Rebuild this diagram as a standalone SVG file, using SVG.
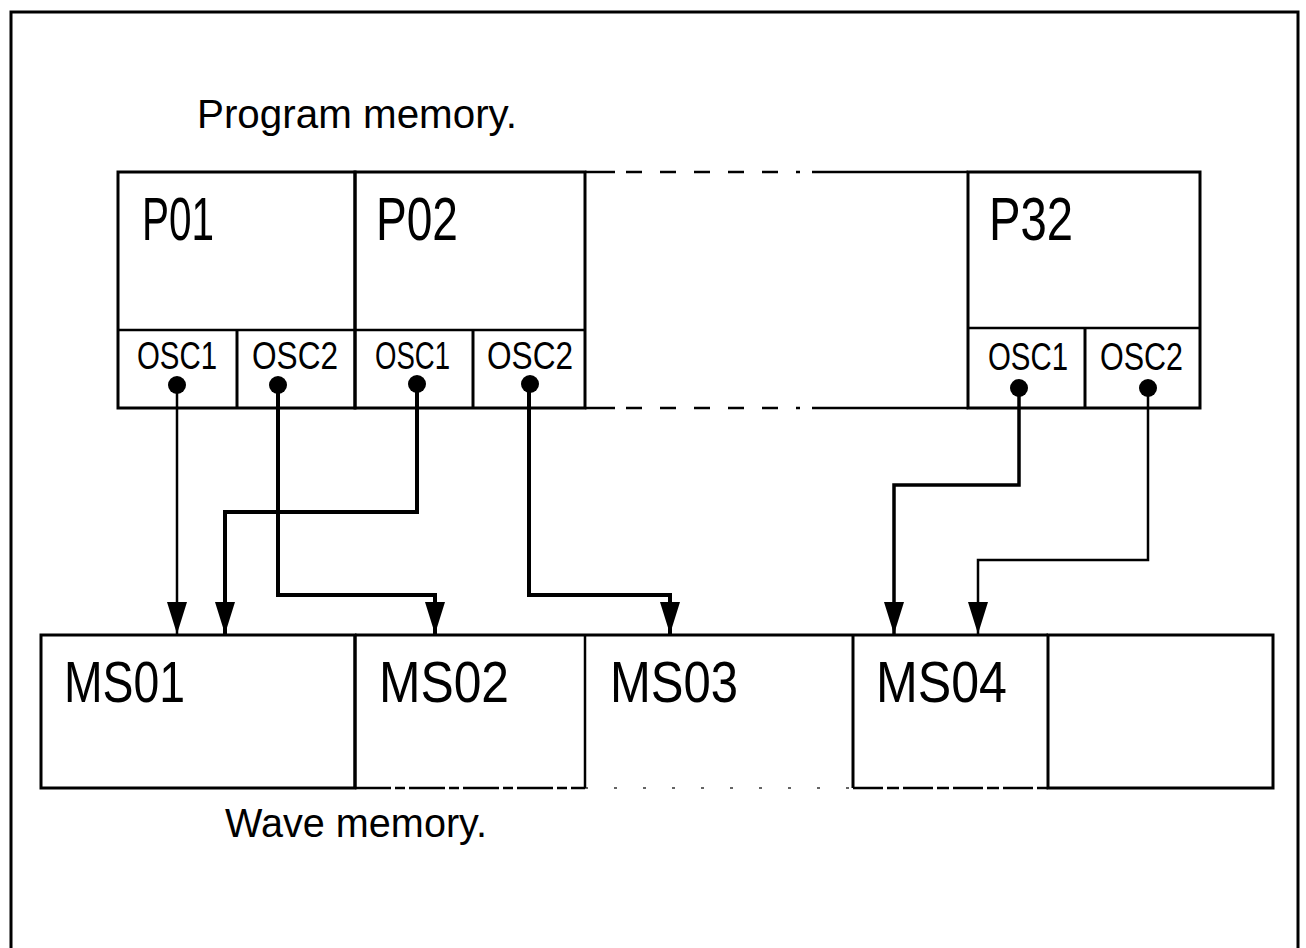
<svg xmlns="http://www.w3.org/2000/svg" width="1306" height="948" viewBox="0 0 1306 948">
<style>
.box{fill:none;stroke:#000;stroke-width:3}
.thin{fill:none;stroke:#000;stroke-width:2.5}
.lbl{font-family:"Liberation Sans",Arial,sans-serif;fill:#000}
.big{font-size:62px}
.osc{font-size:38px}
.ms{font-size:58px}
.cap{font-size:40px}
.wire{fill:none;stroke:#000;stroke-linejoin:miter}
.dot{fill:#000}
</style>
<defs>
<marker id="arr" viewBox="0 0 32 20" refX="32" refY="10" markerWidth="32" markerHeight="20" markerUnits="userSpaceOnUse" orient="auto">
<path d="M0,0 L32,10 L0,20 z" fill="#000"/>
</marker>
</defs>
<rect width="1306" height="948" fill="#fff"/>
<g id="frame">
<rect x="11" y="12" width="1287" height="960" class="box"/>
</g>
<text class="lbl cap" x="197" y="128" textLength="320" lengthAdjust="spacingAndGlyphs">Program memory.</text>
<text class="lbl cap" x="225" y="837" textLength="262" lengthAdjust="spacingAndGlyphs">Wave memory.</text>

<g id="P01">
<rect x="118" y="172" width="237" height="236" class="box"/>
<line x1="118" y1="330" x2="355" y2="330" class="thin"/>
<line x1="237" y1="330" x2="237" y2="408" class="box"/>
<text class="lbl big" x="142" y="240" textLength="72" lengthAdjust="spacingAndGlyphs">P01</text>
<text class="lbl osc" x="137" y="369" textLength="80" lengthAdjust="spacingAndGlyphs">OSC1</text>
<text class="lbl osc" x="252" y="369" textLength="86" lengthAdjust="spacingAndGlyphs">OSC2</text>
</g>
<g id="P02">
<rect x="355" y="172" width="230" height="236" class="box"/>
<line x1="355" y1="330" x2="585" y2="330" class="thin"/>
<line x1="473" y1="330" x2="473" y2="408" class="box"/>
<text class="lbl big" x="376" y="240" textLength="82" lengthAdjust="spacingAndGlyphs">P02</text>
<text class="lbl osc" x="375" y="369" textLength="75" lengthAdjust="spacingAndGlyphs">OSC1</text>
<text class="lbl osc" x="487" y="369" textLength="86" lengthAdjust="spacingAndGlyphs">OSC2</text>
</g>
<g id="gap">
<line x1="585" y1="172" x2="615" y2="172" class="thin"/>
<line x1="626" y1="172" x2="800" y2="172" class="thin" stroke-dasharray="16 18"/>
<line x1="812" y1="172" x2="968" y2="172" class="thin"/>
<line x1="585" y1="408" x2="615" y2="408" class="thin"/>
<line x1="626" y1="408" x2="800" y2="408" class="thin" stroke-dasharray="16 18"/>
<line x1="812" y1="408" x2="968" y2="408" class="thin"/>
</g>
<g id="P32">
<rect x="968" y="172" width="232" height="236" class="box"/>
<line x1="968" y1="328" x2="1200" y2="328" class="thin"/>
<line x1="1085" y1="328" x2="1085" y2="408" class="box"/>
<text class="lbl big" x="989" y="240" textLength="84" lengthAdjust="spacingAndGlyphs">P32</text>
<text class="lbl osc" x="988" y="370" textLength="80" lengthAdjust="spacingAndGlyphs">OSC1</text>
<text class="lbl osc" x="1100" y="370" textLength="83" lengthAdjust="spacingAndGlyphs">OSC2</text>
</g>

<g id="MS01">
<rect x="41" y="635" width="314" height="153" class="box"/>
<text class="lbl ms" x="64" y="702" textLength="121" lengthAdjust="spacingAndGlyphs">MS01</text>
</g>
<g id="MS02">
<line x1="355" y1="635" x2="585" y2="635" class="box"/>
<line x1="355" y1="635" x2="355" y2="788" class="box"/>
<line x1="355" y1="788" x2="585" y2="788" class="thin" stroke-dasharray="36 4 10 4"/>
<text class="lbl ms" x="379" y="702" textLength="130" lengthAdjust="spacingAndGlyphs">MS02</text>
</g>
<g id="MS03">
<line x1="585" y1="635" x2="853" y2="635" class="box"/>
<line x1="585" y1="635" x2="585" y2="788" class="thin"/>
<line x1="585" y1="788" x2="853" y2="788" stroke="#000" stroke-width="2" stroke-dasharray="3 26" opacity="0.6"/>
<text class="lbl ms" x="610" y="702" textLength="128" lengthAdjust="spacingAndGlyphs">MS03</text>
</g>
<g id="MS04">
<line x1="853" y1="635" x2="1048" y2="635" class="box"/>
<line x1="853" y1="635" x2="853" y2="788" class="box"/>
<line x1="853" y1="788" x2="1048" y2="788" class="thin" stroke-dasharray="30 4 12 4"/>
<text class="lbl ms" x="876" y="702" textLength="131" lengthAdjust="spacingAndGlyphs">MS04</text>
</g>
<g id="MS05">
<rect x="1048" y="635" width="225" height="153" class="box"/>
</g>

<g id="connectors">
<path d="M177,385 V634" class="wire" stroke-width="2.5" marker-end="url(#arr)"/>
<path d="M278,385 V595 H435 V634" class="wire" stroke-width="4" marker-end="url(#arr)"/>
<path d="M417,385 V512 H225 V634" class="wire" stroke-width="4" marker-end="url(#arr)"/>
<path d="M529,385 V595 H670 V634" class="wire" stroke-width="4" marker-end="url(#arr)"/>
<path d="M1019,388 V485 H894 V634" class="wire" stroke-width="3.5" marker-end="url(#arr)"/>
<path d="M1148,388 V560 H978 V634" class="wire" stroke-width="2.5" marker-end="url(#arr)"/>
<circle cx="177" cy="385" r="9" class="dot"/>
<circle cx="278" cy="385" r="9" class="dot"/>
<circle cx="417" cy="384" r="9" class="dot"/>
<circle cx="530" cy="384" r="9" class="dot"/>
<circle cx="1019" cy="388" r="9" class="dot"/>
<circle cx="1148" cy="388" r="9" class="dot"/>
</g>
</svg>
